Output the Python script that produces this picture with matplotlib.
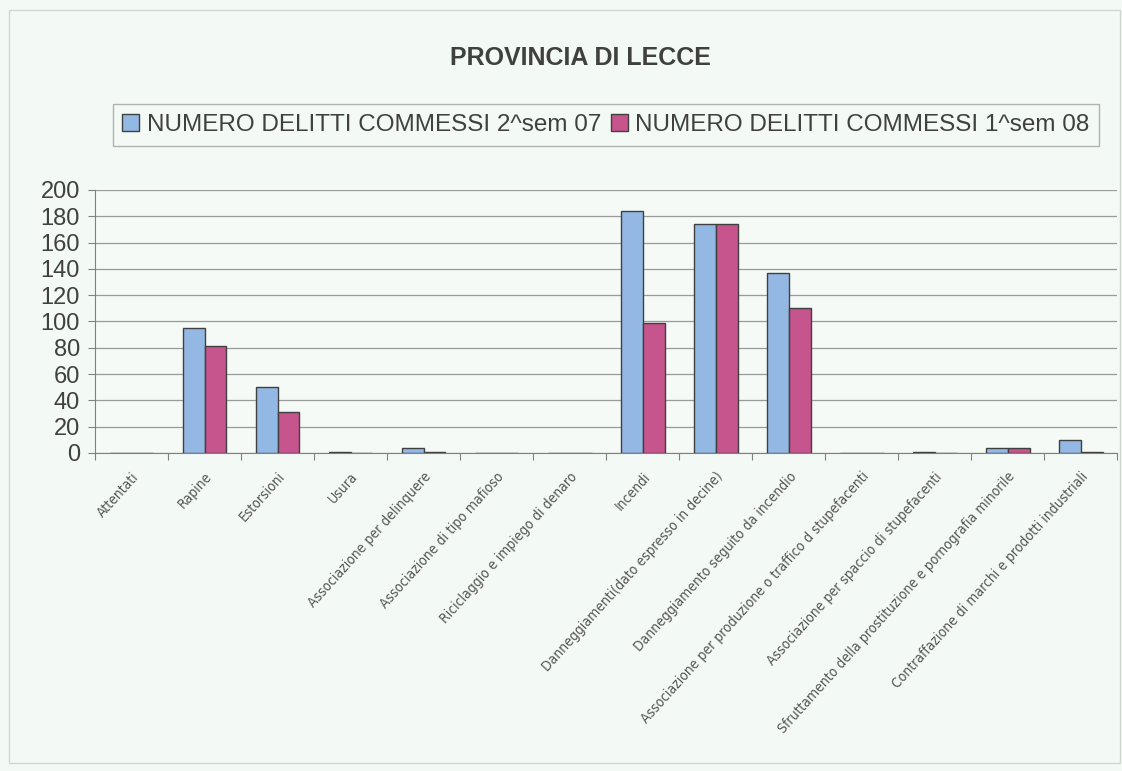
import numpy as np
import matplotlib
matplotlib.use("Agg")
import matplotlib.pyplot as plt
from matplotlib.patches import Rectangle

categories = [
    "Attentati", "Rapine", "Estorsioni", "Usura",
    "Associazione per delinquere", "Associazione di tipo mafioso",
    "Riciclaggio e impiego di denaro", "Incendi",
    "Danneggiamenti(dato espresso in decine)",
    "Danneggiamento seguito da incendio",
    "Associazione per produzione o traffico d stupefacenti",
    "Associazione per spaccio di stupefacenti",
    "Sfruttamento della prostituzione e pornografia minorile",
    "Contraffazione di marchi e prodotti industriali",
]
sem2_07 = [0, 95, 50, 1, 4, 0, 0, 184, 174, 137, 0, 1, 4, 10]
sem1_08 = [0, 81, 31, 0, 1, 0, 0, 99, 174, 110, 0, 0, 4, 1]
series_names = ["NUMERO DELITTI COMMESSI 2^sem 07", "NUMERO DELITTI COMMESSI 1^sem 08"]
yticks = list(range(0, 201, 20))

blue = "#94b8e4"
pink = "#c6558e"
bg = "#f3f9f4"
text_col = "#404040"
arial = ["Liberation Sans", "DejaVu Sans"]

fig = plt.figure(figsize=(11.22, 7.71), dpi=100, facecolor=bg)
# cornice esterna del grafico
fig.patches.append(Rectangle((0.008, 0.01), 0.99, 0.977, transform=fig.transFigure,
                             fill=False, edgecolor="#d0d6d0", linewidth=1.0))

ax = fig.add_axes([0.0847, 0.4125, 0.911, 0.3411])
ax.set_facecolor("#f5faf6")

x = np.arange(len(categories))
w = 0.3
ax.bar(x - w / 2, sem2_07, w, color=blue, edgecolor="#404040", linewidth=1.0,
       label=series_names[0], zorder=3)
ax.bar(x + w / 2, sem1_08, w, color=pink, edgecolor="#404040", linewidth=1.0,
       label=series_names[1], zorder=3)

ax.set_xlim(-0.5, len(categories) - 0.5)
ax.set_ylim(0, 200)
ax.set_yticks(yticks)
ax.set_yticklabels([str(v) for v in yticks], family=arial, fontsize=17)
ax.tick_params(axis="y", labelcolor=text_col, color="#808080",
               length=5, direction="out", pad=6)
ax.yaxis.grid(True, color="#9a9a9a", linewidth=0.9, zorder=0)

ax.set_xticks(np.arange(len(categories) + 1) - 0.5, minor=False)
ax.set_xticklabels([])
ax.tick_params(axis="x", color="#808080", length=5, direction="out")
ax.set_xticks(x, minor=True)
ax.set_xticklabels(categories, minor=True, rotation=48, ha="right",
                   rotation_mode="anchor", family="DejaVu Sans",
                   fontstretch="condensed", fontsize=10, color="#555555")
ax.tick_params(axis="x", which="minor", length=0, pad=12)

for s in ["top", "right"]:
    ax.spines[s].set_visible(False)
for s in ["left", "bottom"]:
    ax.spines[s].set_color("#808080")

fig.text(0.517, 0.925, "PROVINCIA DI LECCE", ha="center", va="center",
         fontsize=18, fontweight="bold", color=text_col, family=arial)

leg = fig.legend(loc="center", bbox_to_anchor=(0.540, 0.838), ncol=2,
                 prop={"family": arial, "size": 17.5}, frameon=True, fancybox=False,
                 handlelength=0.7, handleheight=0.7, handletextpad=0.3,
                 columnspacing=0.4, borderpad=0.4, labelcolor=text_col)
leg.get_frame().set_edgecolor("#a0a0a0")
leg.get_frame().set_facecolor(bg)

fig.savefig("out.png", dpi=100, facecolor=bg)
